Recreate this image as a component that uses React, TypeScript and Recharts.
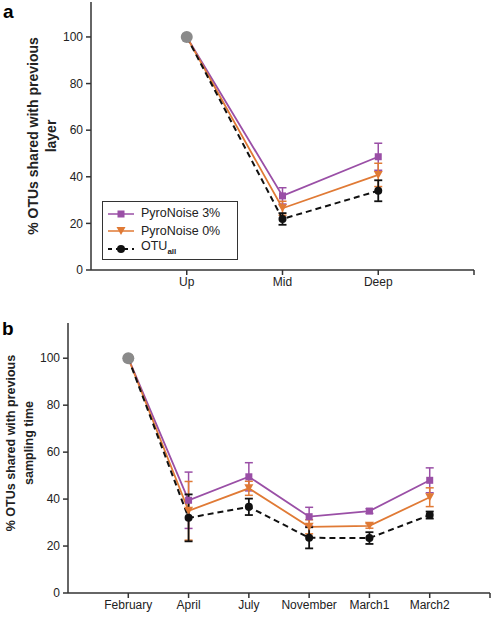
import React from 'react';
import { LineChart, Line, XAxis, YAxis, ErrorBar } from 'recharts';

// Panel a: layers
const layerCats = ['Up', 'Mid', 'Deep'];
const layerPos = [1, 2, 3];
const layerP3 = [100, 31.8, 48.6];
const layerP3Err = [0, 3.5, 5.8];
const layerP0 = [100, 26.5, 40.8];
const layerP0Err = [0, 3, 5];
const layerAll = [100, 21.9, 34];
const layerAllErr = [0, 2.5, 4.5];

// Panel b: sampling times
const timeCats = ['February', 'April', 'July', 'November', 'March1', 'March2'];
const timePos = [1, 2, 3, 4, 5, 6];
const timeP3 = [100, 39.5, 49.5, 32.5, 34.9, 48];
const timeP3Err = [0, 12, 6, 4, 1, 5.3];
const timeP0 = [100, 35, 44.6, 28.2, 28.6, 40.8];
const timeP0Err = [0, 12.5, 3, 3, 1, 4];
const timeAll = [100, 32, 36.7, 23.5, 23.4, 33.2];
const timeAllErr = [0, 10, 3.5, 4.5, 2.5, 1.5];

const yTicks = [0, 20, 40, 60, 80, 100];

const PURPLE = '#9a4fa6';
const ORANGE = '#e07a35';
const BLACK = '#111111';
const GREY = '#8a8a8a';
const AXIS = '#333333';
const FONT = '"Liberation Sans", Arial, sans-serif';

function build(pos: number[], p3: number[], p3e: number[], p0: number[], p0e: number[], all: number[], alle: number[]) {
  return pos.map((x, i) => ({
    x,
    p3: p3[i],
    p3e: p3e[i] || null,
    p0: p0[i],
    p0e: p0e[i] || null,
    all: all[i],
    alle: alle[i] || null,
    start: i === 0 ? all[i] : null,
  }));
}

const layerData = build(layerPos, layerP3, layerP3Err, layerP0, layerP0Err, layerAll, layerAllErr);
const timeData = build(timePos, timeP3, timeP3Err, timeP0, timeP0Err, timeAll, timeAllErr);

const SquareDot = (props: any) => {
  const { cx, cy, index } = props;
  if (cx == null || cy == null) return <g key={`s${index}`} />;
  return <rect key={`s${index}`} x={cx - 3.5} y={cy - 3.5} width={7} height={7} fill={PURPLE} />;
};
const TriDot = (props: any) => {
  const { cx, cy, index } = props;
  if (cx == null || cy == null) return <g key={`t${index}`} />;
  return <polygon key={`t${index}`} points={`${cx - 4.5},${cy - 4} ${cx + 4.5},${cy - 4} ${cx},${cy + 4}`} fill={ORANGE} />;
};
const CircDot = (props: any) => {
  const { cx, cy, index } = props;
  if (cx == null || cy == null) return <g key={`c${index}`} />;
  return <circle key={`c${index}`} cx={cx} cy={cy} r={4} fill={BLACK} />;
};
const GreyDot = (props: any) => {
  const { cx, cy, index } = props;
  if (cx == null || cy == null) return <g key={`g${index}`} />;
  return <circle key={`g${index}`} cx={cx} cy={cy} r={6} fill={GREY} />;
};

const legendItems = [
  { name: 'PyroNoise 3%', kind: 'sq' },
  { name: 'PyroNoise 0%', kind: 'tri' },
  { name: 'OTU', kind: 'circ' },
];

const LegendBox = () => (
  <div
    style={{
      position: 'absolute',
      left: 102,
      top: 201,
      border: '1px solid #333',
      width: 136,
      height: 59,
      boxSizing: 'border-box',
      fontFamily: FONT,
      fontSize: 12.5,
      color: '#222',
      background: '#fff',
      paddingTop: 3,
    }}
  >
    {legendItems.map((e) => (
      <div key={e.name} style={{ display: 'flex', alignItems: 'center', height: 17.5, lineHeight: '17px' }}>
        <svg width={30} height={14} style={{ marginLeft: 4, marginRight: 4 }}>
          {e.kind === 'sq' && (
            <g>
              <line x1={1} y1={7} x2={27} y2={7} stroke={PURPLE} strokeWidth={1.5} />
              <rect x={10.5} y={3.5} width={7} height={7} fill={PURPLE} />
            </g>
          )}
          {e.kind === 'tri' && (
            <g>
              <line x1={1} y1={7} x2={27} y2={7} stroke={ORANGE} strokeWidth={1.5} />
              <polygon points="9.5,3 18.5,3 14,11" fill={ORANGE} />
            </g>
          )}
          {e.kind === 'circ' && (
            <g>
              <line x1={1} y1={7} x2={27} y2={7} stroke={BLACK} strokeWidth={2} strokeDasharray="4 4" />
              <circle cx={14} cy={7} r={4} fill={BLACK} />
            </g>
          )}
        </svg>
        <span>
          {e.name}
          {e.kind === 'circ' && <sub style={{ fontSize: 8, fontWeight: 'bold' }}>all</sub>}
        </span>
      </div>
    ))}
  </div>
);

function makeYLabel(lines: string[], xs: number[], cy: number, size: number) {
  return () => (
    <g>
      {lines.map((t, i) => (
        <text
          key={t}
          x={xs[i]}
          y={cy}
          transform={`rotate(-90, ${xs[i]}, ${cy})`}
          textAnchor="middle"
          dominantBaseline="central"
          fontFamily={FONT}
          fontWeight="bold"
          fontSize={size}
          fill="#222"
        >
          {t}
        </text>
      ))}
    </g>
  );
}

const tickStyle = { fontFamily: FONT, fontSize: 12, fill: '#222' };

function renderSeries() {
  return [
    <Line
      key="p3"
      dataKey="p3"
      stroke={PURPLE}
      strokeWidth={1.8}
      dot={SquareDot}
      activeDot={false}
      isAnimationActive={false}
      name="PyroNoise 3%"
    >
      <ErrorBar dataKey="p3e" width={4} stroke={PURPLE} strokeWidth={1.5} direction="y" />
    </Line>,
    <Line
      key="p0"
      dataKey="p0"
      stroke={ORANGE}
      strokeWidth={1.8}
      dot={TriDot}
      activeDot={false}
      isAnimationActive={false}
      name="PyroNoise 0%"
    >
      <ErrorBar dataKey="p0e" width={4} stroke={ORANGE} strokeWidth={1.5} direction="y" />
    </Line>,
    <Line
      key="all"
      dataKey="all"
      stroke={BLACK}
      strokeWidth={2}
      strokeDasharray="6 4"
      dot={CircDot}
      activeDot={false}
      isAnimationActive={false}
      name="OTUall"
    >
      <ErrorBar dataKey="alle" width={4} stroke={BLACK} strokeWidth={1.8} direction="y" />
    </Line>,
    <Line
      key="start"
      dataKey="start"
      stroke="none"
      dot={GreyDot}
      activeDot={false}
      isAnimationActive={false}
      legendType="none"
    />,
  ];
}

export default function App() {
  return (
    <div style={{ position: 'absolute', left: 0, top: 0, width: 493, height: 619, background: '#fff' }}>
      <div style={{ position: 'absolute', left: 0, top: 0 }}>
        <LineChart width={493} height={300} data={layerData} margin={{ top: 2, right: 19, bottom: 0, left: 0 }}>
          <XAxis
            type="number"
            dataKey="x"
            domain={[0, 4]}
            ticks={[1, 2, 3, 4]}
            tickFormatter={(v: number) => (v >= 1 && v <= 3 ? layerCats[v - 1] : '')}
            height={30}
            stroke={AXIS}
            strokeWidth={1.5}
            tickSize={5}
            tick={tickStyle}
            interval={0}
            allowDecimals={false}
          />
          <YAxis
            type="number"
            domain={[0, 115]}
            ticks={yTicks}
            width={91}
            stroke={AXIS}
            strokeWidth={1.5}
            tickSize={5}
            tickMargin={3}
            tick={tickStyle}
            interval={0}
            label={{ content: makeYLabel(['% OTUs shared with previous', 'layer'], [33, 51], 136, 14) }}
          />
          {renderSeries()}
        </LineChart>
      </div>
      <LegendBox />

      <div style={{ position: 'absolute', left: 0, top: 300 }}>
        <LineChart width={493} height={319} data={timeData} margin={{ top: 23, right: 3, bottom: 0, left: 0 }}>
          <XAxis
            type="number"
            dataKey="x"
            domain={[0, 7]}
            ticks={[1, 2, 3, 4, 5, 6, 7]}
            tickFormatter={(v: number) => (v >= 1 && v <= 6 ? timeCats[v - 1] : '')}
            height={26}
            stroke={AXIS}
            strokeWidth={1.5}
            tickSize={5}
            tick={tickStyle}
            interval={0}
            allowDecimals={false}
          />
          <YAxis
            type="number"
            domain={[0, 115]}
            ticks={yTicks}
            width={68}
            stroke={AXIS}
            strokeWidth={1.5}
            tickSize={5}
            tickMargin={3}
            tick={tickStyle}
            interval={0}
            label={{ content: makeYLabel(['% OTUs shared with previous', 'sampling time'], [11, 29], 143, 12.5) }}
          />
          {renderSeries()}
        </LineChart>
      </div>

      <div style={{ position: 'absolute', left: 3, top: 1, fontFamily: FONT, fontWeight: 'bold', fontSize: 19 }}>a</div>
      <div style={{ position: 'absolute', left: 2, top: 318, fontFamily: FONT, fontWeight: 'bold', fontSize: 19 }}>b</div>
    </div>
  );
}
